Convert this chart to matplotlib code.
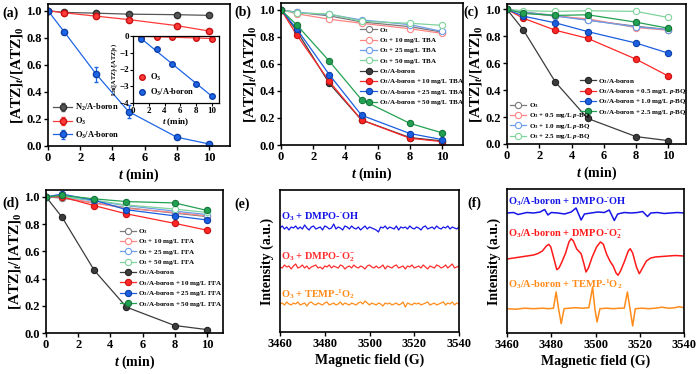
import matplotlib
matplotlib.use('Agg')
import matplotlib.pyplot as plt
import numpy as np

plt.rcParams['font.family'] = ['Liberation Serif', 'DejaVu Serif']
plt.rcParams['font.weight'] = 'bold'
plt.rcParams['axes.labelweight'] = 'bold'
plt.rcParams['mathtext.fontset'] = 'custom'
plt.rcParams['mathtext.rm'] = 'Liberation Serif:bold'
plt.rcParams['mathtext.it'] = 'Liberation Serif:bold:italic'
plt.rcParams['mathtext.bf'] = 'Liberation Serif:bold'
plt.rcParams['mathtext.default'] = 'rm'

# ---- data ----
t = [0, 1, 3, 5, 8, 10]

# (a)
a_n2 = [1.0, 0.988, 0.982, 0.975, 0.971, 0.966]
a_o3 = [1.0, 0.985, 0.96, 0.935, 0.89, 0.85]
a_cat = [1.0, 0.845, 0.53, 0.255, 0.065, 0.015]
a_cat_err = [0.0, 0.01, 0.055, 0.045, 0.01, 0.01]
# inset ln plot
ti = [1, 3, 5, 8, 10]
ln_o3 = [-0.03, -0.04, -0.06, -0.11, -0.16]
ln_cat = [-0.2, -0.8, -1.7, -2.88, -3.57]

# (b) TBA
b_labels = ['O$_3$', 'O$_3$ + 10 mg/L TBA', 'O$_3$ + 25 mg/L TBA', 'O$_3$ + 50 mg/L TBA',
            'O$_3$/A-boron', 'O$_3$/A-boron + 10 mg/L TBA', 'O$_3$/A-boron + 25 mg/L TBA',
            'O$_3$/A-boron + 50 mg/L TBA']
b_vals = [[1.0, 0.98, 0.955, 0.91, 0.875, 0.835],
          [1.0, 0.97, 0.93, 0.90, 0.86, 0.825],
          [1.0, 0.98, 0.965, 0.925, 0.89, 0.84],
          [1.0, 0.975, 0.97, 0.915, 0.90, 0.885],
          [1.0, 0.84, 0.455, 0.185, 0.055, 0.03],
          [1.0, 0.81, 0.47, 0.185, 0.05, 0.025],
          [1.0, 0.855, 0.52, 0.22, 0.085, 0.04],
          [1.0, 0.885, 0.62, 0.335, 0.16, 0.09]]

# (c) p-BQ
c_labels = ['O$_3$', 'O$_3$ + 0.5 mg/L $\\mathit{p}$-BQ', 'O$_3$ + 1.0 mg/L $\\mathit{p}$-BQ',
            'O$_3$ + 2.5 mg/L $\\mathit{p}$-BQ', 'O$_3$/A-boron',
            'O$_3$/A-boron + 0.5 mg/L $\\mathit{p}$-BQ', 'O$_3$/A-boron + 1.0 mg/L $\\mathit{p}$-BQ',
            'O$_3$/A-boron + 2.5 mg/L $\\mathit{p}$-BQ']
c_vals = [[1.0, 0.98, 0.955, 0.92, 0.875, 0.85],
          [1.0, 0.975, 0.95, 0.93, 0.865, 0.845],
          [1.0, 0.98, 0.95, 0.92, 0.87, 0.85],
          [1.0, 0.99, 0.985, 0.99, 0.985, 0.94],
          [1.0, 0.85, 0.46, 0.19, 0.055, 0.025],
          [1.0, 0.935, 0.845, 0.785, 0.63, 0.505],
          [1.0, 0.95, 0.90, 0.835, 0.75, 0.675],
          [1.0, 0.97, 0.955, 0.96, 0.905, 0.86]]

# (d) FFA
d_labels = ['O$_3$', 'O$_3$ + 10 mg/L FFA', 'O$_3$ + 25 mg/L FFA', 'O$_3$ + 50 mg/L FFA',
            'O$_3$/A-boron', 'O$_3$/A-boron + 10 mg/L FFA', 'O$_3$/A-boron + 25 mg/L FFA',
            'O$_3$/A-boron + 50 mg/L FFA']
d_vals = [[1.0, 0.99, 0.955, 0.92, 0.88, 0.855],
          [1.0, 0.995, 0.955, 0.915, 0.885, 0.86],
          [1.0, 1.0, 0.97, 0.935, 0.895, 0.87],
          [1.0, 1.0, 0.975, 0.94, 0.91, 0.885],
          [1.0, 0.85, 0.46, 0.19, 0.055, 0.025],
          [1.0, 1.0, 0.935, 0.875, 0.805, 0.755],
          [1.0, 1.02, 0.975, 0.905, 0.86, 0.83],
          [1.0, 1.01, 0.985, 0.965, 0.955, 0.90]]

# (e) EPR, O3 alone (noise only)
e_oh = [0, 2, -1, 1, -2, 1, 0, 2, -1, 1, -1, 3, 0, -2, 1, 2, -1, 0, 1, -2, 2, 1, -1, 0, 4,
        -1, 1, 0, -2, 2, 1, -1, 2, 0, -1, 1, -2, 0, 2, -1, 1, 0, -1, -2, -4, 1, 0, 2, -1, 1,
        0, -1, 2, -2, 1, 0, 1, -1, 2, 0, -1, 1, 0, -2, 1, 2, -1, 0, 1, -1, 2, 0, -1, 1, 0,
        2, -1, 1, 0, -1, 1]
e_o2 = [0, -1, 2, 0, 1, -2, 1, 3, -1, 0, 2, -1, 1, -2, 0, 1, 2, -1, 0, -2, 1, 0, 2, -1, 1,
        0, -1, 2, 1, -2, 0, 1, -1, 2, 0, -1, 1, 0, -2, 1, 2, 0, -1, 1, -1, 0, 2, -2, 1, 0,
        -1, 1, 2, -1, 0, 1, -2, 1, 0, 2, -1, 0, 1, -1, 2, 0, -2, 1, 0, -1, 2, 1, -1, 0, 2,
        -1, 1, 3, -1, 0, 1]
e_temp = [0, 1, -1, 2, 0, -1, 1, 0, 2, -1, 0, 1, -2, 1, 2, 0, -1, 1, 0, -1, 1, 2, -1, 0, 1,
          -1, 0, 2, -1, 1, 0, -1, 1, 0, -1, 1, 2, 0, 3, 1, -1, 1, 0, -1, 1, 0, -2, 1, 0, 1,
          -1, 0, 1, -1, 0, 2, -3, 1, 0, -1, 1, 0, 1, -1, 0, 1, 2, -1, 0, 1, -1, 0, 1, 2, -1,
          1, 0, 2, -1, 1, 0]

# (f) EPR, O3/A-boron
f_oh_B = [3460, 3463, 3465, 3466, 3469, 3472, 3475, 3477, 3478.5, 3480, 3483, 3486, 3489,
          3491.2, 3493.5, 3495, 3498, 3501, 3504, 3506.2, 3508.5, 3510, 3513, 3516, 3519,
          3521.3, 3523.5, 3525, 3528, 3531, 3534, 3537, 3540]
f_oh = [0, 0.5, -1.5, -1, 0.5, 0, 1, 3.5, -2, 0.5, 0, -1, 1, 5, -7, -1, 0, 1, 0.5, 3, -7.5,
        -1, 0.5, 0, 0.5, 1.5, -3.5, 0, 0.5, -0.5, 0, 0.5, 0]
f_o2_B = [3460, 3463, 3466, 3469, 3472, 3474, 3476, 3477.8, 3478.9, 3479.8, 3481, 3482.5,
          3483.5, 3484.8, 3486.5, 3488, 3489, 3490, 3491.5, 3493.5, 3494.8, 3495.7, 3496.8,
          3498.5, 3500.5, 3502.2, 3503.5, 3505, 3506.5, 3508, 3509.3, 3510.2, 3511.3, 3513,
          3514.8, 3515.7, 3516.8, 3518.5, 3519.8, 3521, 3523, 3525, 3527, 3530, 3533, 3536,
          3540]
f_o2 = [0, 1, 2, 3, 4, 5.5, 8, 13, 14.7, 12, 2, -10.7, -9, -3, 6, 17, 20.3, 18, 10, 5.3,
        -5, -13, -9, 2, 12, 17, 15, 5, -2, -7, -14, -16.3, -12, -3, 8, 10.3, 6, -8, -14.7,
        -10, -2, 1, 2, 2.5, 3, 3.5, 3]
f_temp_B = [3460, 3464, 3468, 3472, 3476, 3479, 3481, 3482.2, 3483.3, 3484.5, 3485.8, 3488,
            3491, 3494, 3497, 3498.7, 3499.7, 3500.7, 3502, 3505, 3508, 3511, 3513, 3514.4,
            3515.6, 3516.8, 3518, 3521, 3524, 3527, 3530, 3533, 3536, 3537.8, 3540]
f_temp = [0, -0.5, 0.5, 0, 0.5, 0, 0.5, 16.7, 0, -15, 0, 0.5, 1, 0.5, 1, 21.7, 0, -13.3, 0,
          0.5, 0, 0.5, 0.5, 16.7, 0, -17.3, 0, 0.5, 0, 0.5, 1.5, 0.5, 1, 2, 1]

# ---- styling ----
W, H = 700, 374
def box(x0, y0, x1, y1):
    return [x0 / W, 1 - y1 / H, (x1 - x0) / W, (y1 - y0) / H]

colors = ['#7a7a7a', '#ff8585', '#6d9de8', '#7fd39c',
          '#3c3c3c', '#ff2626', '#1a5fe0', '#22a152']
edges = ['#7a7a7a', '#ff8585', '#6d9de8', '#7fd39c',
         '#222222', '#c81010', '#0c3fa8', '#13753a']

def style(ax, xmax, ymax=1.05):
    ax.set_xlim(0, xmax)
    ax.set_ylim(0, ymax)
    ax.set_xticks([0, 2, 4, 6, 8, 10])
    ax.set_yticks([0, 0.2, 0.4, 0.6, 0.8, 1.0])
    ax.set_yticklabels(['0.0', '0.2', '0.4', '0.6', '0.8', '1.0'])
    ax.tick_params(direction='out', length=3, width=1, labelsize=9, pad=1.5)
    for s in ax.spines.values():
        s.set_linewidth(1.2)
    ax.set_xlabel(r'$\mathit{t}$ (min)', fontsize=10, labelpad=2)
    ax.set_ylabel(r'[ATZ]$_{\mathit{t}}$/[ATZ]$_0$', fontsize=11, labelpad=1)

def series(ax, vals, labels):
    hs = []
    for i in range(8):
        fc = 'white' if i < 4 else colors[i]
        h, = ax.plot(t, vals[i], '-o', color=colors[i], lw=0.9, ms=4.5,
                     mfc=fc, mec=edges[i], mew=0.8, label=labels[i])
        hs.append(h)
    return hs

leg_kw = dict(fontsize=5, frameon=False, handlelength=2.4, labelspacing=0.2,
              borderaxespad=0, handletextpad=0.3)

fig = plt.figure(figsize=(7.0, 3.74), dpi=100)

# (a)
ax = fig.add_axes(box(48, 4, 230, 146))
ax.errorbar(t, a_n2, yerr=0.005, fmt='-o', color='#555555', lw=0.9, ms=4.5,
            mec='#303030', capsize=1.5, label='N$_2$/A-boron')
ax.errorbar(t, a_o3, yerr=0.005, fmt='-o', color='#ff3a3a', lw=0.9, ms=4.5,
            mec='#c81010', capsize=1.5, label='O$_3$')
ax.errorbar(t, a_cat, yerr=a_cat_err, fmt='-o', color='#1f66e6', lw=0.9, ms=4.5,
            mec='#0c3fa8', capsize=1.5, label='O$_3$/A-boron')
style(ax, 11.3)
ax.legend(loc='lower left', bbox_to_anchor=(0.0, 0.0), fontsize=6, frameon=False,
          handlelength=2.2, labelspacing=0.3, borderaxespad=0.25, handletextpad=0.4)

ins = fig.add_axes(box(133, 36, 219, 103))
pa = np.polyfit(ti, ln_o3, 1)
pb = np.polyfit(ti, ln_cat, 1)
xx = np.array([0, 10])
ins.plot(xx, np.polyval(pa, xx), color='#ff3a3a', lw=0.9)
ins.plot(xx, np.polyval(pb, xx), color='#1f66e6', lw=0.9)
ins.plot(ti, ln_o3, 'o', color='#ff3a3a', mec='#c81010', ms=4, label='O$_3$')
ins.plot(ti, ln_cat, 'o', color='#1f66e6', mec='#0c3fa8', ms=4, label='O$_3$/A-boron')
ins.set_xlim(0, 10.9)
ins.set_ylim(-4, 0)
ins.set_xticks([0, 2, 4, 6, 8, 10])
ins.set_yticks([0, -1, -2, -3, -4])
ins.tick_params(direction='out', length=2, width=0.8, labelsize=6.5, pad=1)
for s in ins.spines.values():
    s.set_linewidth(0.9)
ins.set_xlabel(r'$\mathit{t}$ (min)', fontsize=6.5, labelpad=1)
ins.set_ylabel(r'Ln([ATZ]$_{\mathit{t}}$/[ATZ]$_0$)', fontsize=4.5, labelpad=0.5)
ins.legend(loc='lower left', fontsize=6, frameon=False, handlelength=1.0,
           labelspacing=0.5, borderaxespad=0.2, handletextpad=0.4)

# (b)
ax = fig.add_axes(box(281, 3, 463, 145))
hs = series(ax, b_vals, b_labels)
style(ax, 11.3)
ax.legend(handles=hs, loc='upper left', bbox_to_anchor=(0.42, 0.86), **leg_kw)

# (c)
ax = fig.add_axes(box(507, 4, 686, 144))
hs = series(ax, c_vals, c_labels)
style(ax, 11.1, 1.04)
leg1 = ax.legend(handles=hs[4:], loc='upper left', bbox_to_anchor=(0.39, 0.5), **leg_kw)
ax.add_artist(leg1)
ax.legend(handles=hs[:4], loc='lower left', bbox_to_anchor=(0.0, 0.0), **leg_kw)

# (d)
ax = fig.add_axes(box(46, 190, 223, 333))
hs = series(ax, d_vals, d_labels)
style(ax, 11.0)
ax.legend(handles=hs, loc='upper left', bbox_to_anchor=(0.4, 0.76), **leg_kw)

def esr_style(ax, ymax):
    ax.set_xlim(3460, 3540)
    ax.set_ylim(0, ymax)
    ax.set_xticks([3460, 3480, 3500, 3520, 3540])
    ax.set_yticks([])
    ax.tick_params(direction='out', length=3, width=1, labelsize=9, pad=1.5)
    for s in ax.spines.values():
        s.set_linewidth(1.2)
    ax.set_xlabel('Magnetic field (G)', fontsize=10, labelpad=2)
    ax.set_ylabel('Intensity (a.u.)', fontsize=10, labelpad=4)

# (e)
ax = fig.add_axes(box(280, 190, 459, 332))
for arr, off, c in [(e_oh, 104, '#1515e8'), (e_o2, 65, '#ff3030'), (e_temp, 28, '#ff8c1a')]:
    B = np.linspace(3460, 3540, len(arr))
    ax.plot(B, np.array(arr) + off, color=c, lw=0.9)
esr_style(ax, 142)
ax.text(3460.6, 115, 'O$_3$ + DMPO-$^{\\bullet}$OH', color='#1515e8', fontsize=7.5, va='center')
ax.text(3460.6, 75, 'O$_3$ + DMPO-$^{\\bullet}$O$_2^{-}$', color='#ff3030', fontsize=7.5, va='center')
ax.text(3460.6, 38, 'O$_3$ + TEMP-$^{1}$O$_2$', color='#ff8c1a', fontsize=7.5, va='center')

# (f)
ax = fig.add_axes(box(507, 189, 684, 333))
ax.plot(f_oh_B, np.array(f_oh) + 120, color='#1515e8', lw=1.1)
ax.plot(f_o2_B, np.array(f_o2) + 74, color='#ff1a1a', lw=1.1)
ax.plot(f_temp_B, np.array(f_temp) + 24.3, color='#ff8c1a', lw=1.1)
esr_style(ax, 144)
ax.text(3460.6, 131, 'O$_3$/A-boron + DMPO-$^{\\bullet}$OH', color='#1515e8', fontsize=7.5, va='center')
ax.text(3460.6, 99, 'O$_3$/A-boron + DMPO-$^{\\bullet}$O$_2^{-}$', color='#ff1a1a', fontsize=7.5, va='center')
ax.text(3460.6, 49, 'O$_3$/A-boron + TEMP-$^{1}$O$_2$', color='#ff8c1a', fontsize=7.5, va='center')

# panel letters
for lab, x, y in [('(a)', 2, 13), ('(b)', 234, 12), ('(c)', 463, 12),
                  ('(d)', 2, 203), ('(e)', 234, 204), ('(f)', 467, 203)]:
    fig.text(x / W, 1 - y / H, lab, fontsize=10, fontweight='bold', va='center')

fig.savefig('out.png', dpi=100)
